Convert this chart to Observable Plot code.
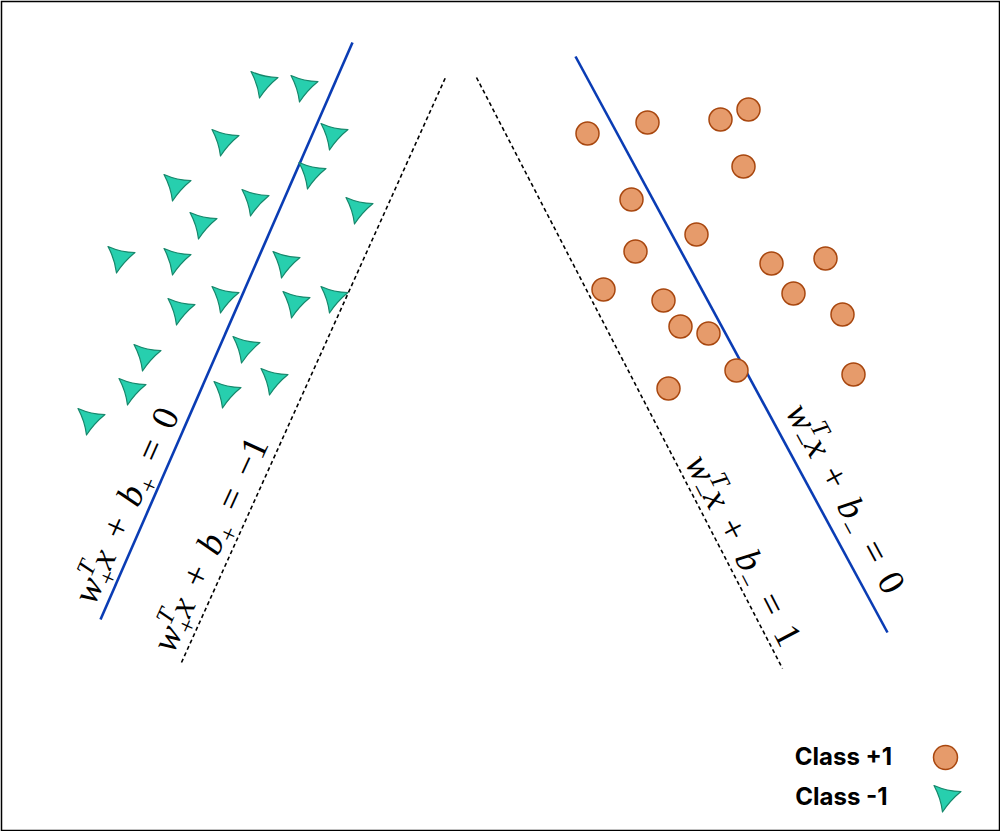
<!DOCTYPE html>
<html><head><meta charset="utf-8">
<script src="https://cdn.jsdelivr.net/npm/d3@7"></script>
<script src="https://cdn.jsdelivr.net/npm/@observablehq/plot@0.6"></script>
<style>body{margin:0;background:#fff}</style>
</head><body><div id="chart"></div>
<script>
// Class -1 (triangles)
const negX = [263,303,333,224,311,176,254,358,202,120,176,285,224,295,333,180,245,146,273,131,226,90];
const negY = [83,87,135,141,174,186,201,209,224,258,260,263,298,303,298,310,348,356,380,390,393,420];
// Class +1 (circles)
const posX = [587,647,720,748,743,631,696,635,771,825,603,663,793,842,680,708,736,853,668];
const posY = [133,122,119,109,166,199,234,251,263,258,289,300,293,314,326,333,370,374,388];
// hyperplanes
const lineX1 = [100,181,476,575];
const lineY1 = [619,662,77,56];
const lineX2 = [352,445,782,887];
const lineY2 = [42,77,668,632];
const lineDashed = [false,true,true,false];
// equation labels
const labels = ["w₊ᵀx + b₊ = 0","w₊ᵀx + b₊ = −1","w₋ᵀx + b₋ = 0","w₋ᵀx + b₋ = 1"];
const labelX = [126,210,845,743];
const labelY = [505,544,498,550];
const labelAngle = [-66,-65.5,61.6,62.6];
// legend
const legendLabels = ["Class +1","Class -1"];
const legendTextX = [843,841];
const legendY = [757,797];
const legendMarkX = [945,946];

const tri = {
  draw(ctx, size) {
    const s = Math.sqrt(size / Math.PI) / 13;
    const P = [[-12.5,-12],[14.5,-6],[-4,14.5]].map(([x,y]) => [x*s, y*s]);
    ctx.moveTo(P[0][0], P[0][1]);
    for (let i = 0; i < 3; i++) {
      const a = P[i], b = P[(i+1)%3];
      const cx = (a[0]+b[0])/2*0.68, cy = (a[1]+b[1])/2*0.68;
      ctx.quadraticCurveTo(cx, cy, b[0], b[1]);
    }
    ctx.closePath();
  }
};

const neg = negX.map((x,i)=>({x, y:negY[i]}));
const pos = posX.map((x,i)=>({x, y:posY[i]}));
const lines = lineX1.map((x1,i)=>({x1, y1:lineY1[i], x2:lineX2[i], y2:lineY2[i], dashed:lineDashed[i]}));
const labs = labels.map((t,i)=>({t, x:labelX[i], y:labelY[i], a:labelAngle[i]}));
const leg = legendLabels.map((t,i)=>({t, x:legendTextX[i], mx:legendMarkX[i], y:legendY[i]}));

const FS = 37;
const plot = Plot.plot({
  width: 1000, height: 831,
  margin: 0,
  x: {domain:[0,1000], range:[0,1000], axis:null},
  y: {domain:[0,831], range:[0,831], axis:null},
  style: {background:"#fff"},
  marks: [
    Plot.frame({stroke:"#000", strokeWidth:1.5, inset:1}),
    Plot.link(lines.filter(d=>!d.dashed), {x1:"x1", y1:"y1", x2:"x2", y2:"y2", stroke:"#0a3cb4", strokeWidth:2.6}),
    Plot.link(lines.filter(d=>d.dashed), {x1:"x1", y1:"y1", x2:"x2", y2:"y2", stroke:"#000", strokeWidth:1.6, strokeDasharray:"4,3"}),
    Plot.dot(neg, {x:"x", y:"y", r:13, symbol:tri, fill:"#27cfae", stroke:"#16876b", strokeWidth:1.2, strokeLinejoin:"round"}),
    Plot.dot(pos, {x:"x", y:"y", r:11.5, fill:"#e69b6b", stroke:"#a8470f", strokeWidth:1.5}),
    Plot.text(labs, {x:"x", y:"y", text:"t", rotate:"a", fontSize:FS, fontFamily:"Liberation Serif", fill:"#000", textAnchor:"middle"}),
    Plot.text(leg, {x:"x", y:"y", text:"t", fontSize:24, fontWeight:"bold", fontFamily:"Inter", fill:"#000", textAnchor:"middle"}),
    Plot.dot(leg.slice(0,1), {x:"mx", y:"y", r:12, fill:"#e69b6b", stroke:"#a8470f", strokeWidth:1.5}),
    Plot.dot(leg.slice(1), {x:"mx", y:"y", r:13, symbol:tri, fill:"#27cfae", stroke:"#16876b", strokeWidth:1.2, strokeLinejoin:"round"})
  ]
});
document.getElementById("chart").appendChild(plot);

// typeset the equations with sub/superscripts
const NS = "http://www.w3.org/2000/svg";
function mathify(el, str, fs) {
  el.textContent = "";
  const small = 0.68*fs, supDy = -0.4*fs, subDy = 0.24*fs, subW = 0.564*small;
  let cur = 0, pendingDx = 0, prevSub = false;
  for (const ch of str) {
    if (ch === " ") { pendingDx += 0.42*fs; continue; }
    const t = document.createElementNS(NS, "tspan");
    let target = 0, txt = ch, italic = /[a-zA-Z]/.test(ch), size = null, dx = pendingDx;
    if (ch === "ᵀ") { target = supDy; size = small; txt = "T"; italic = true; if (prevSub) dx -= subW; }
    else if (ch === "₊" || ch === "₋") { target = subDy; size = small; txt = ch === "₊" ? "+" : "−"; italic = false; }
    prevSub = (ch === "₊" || ch === "₋");
    const dy = target - cur; cur = target;
    if (dx) t.setAttribute("dx", dx);
    if (dy) t.setAttribute("dy", dy);
    if (size) t.setAttribute("font-size", size);
    t.setAttribute("font-style", italic ? "italic" : "normal");
    t.textContent = txt;
    el.appendChild(t);
    pendingDx = 0;
  }
}
plot.querySelectorAll("text").forEach(el => {
  const s = el.textContent;
  if (labels.includes(s)) mathify(el, s, FS);
});
</script>
</body></html>
